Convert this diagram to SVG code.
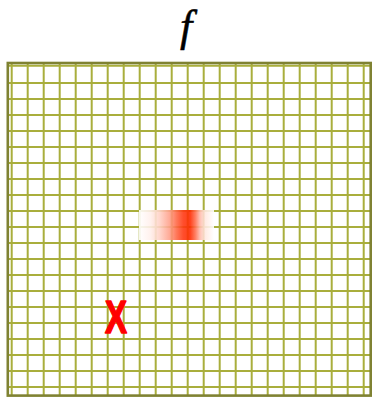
<svg xmlns="http://www.w3.org/2000/svg" width="373" height="397" viewBox="0 0 373 397">
<defs>
<style>
.g{stroke:#a9ae3c;stroke-width:2;fill:none}
.b{stroke:#7f8232;stroke-width:2.6;fill:none}
</style>
<linearGradient id="heat" x1="0" y1="0" x2="1" y2="0">
<stop offset="0" stop-color="#ffffff"/>
<stop offset="0.15" stop-color="#fff0ec"/>
<stop offset="0.28" stop-color="#ffd0c4"/>
<stop offset="0.41" stop-color="#ffa08a"/>
<stop offset="0.5" stop-color="#ff6a48"/>
<stop offset="0.59" stop-color="#ff3a15"/>
<stop offset="0.68" stop-color="#ff2a00"/>
<stop offset="0.75" stop-color="#ff7050"/>
<stop offset="0.81" stop-color="#ffb8a8"/>
<stop offset="0.88" stop-color="#ffe8e0"/>
<stop offset="1" stop-color="#ffffff"/>
</linearGradient>
</defs>
<rect width="373" height="397" fill="#ffffff"/>
<g id="grid">
<path class="g" d="M11.7 63V395 M27.7 63V395 M43.7 63V395 M59.7 63V395 M75.7 63V395 M91.7 63V395 M107.7 63V395 M123.7 63V395 M139.7 63V395 M155.7 63V395 M171.7 63V395 M187.7 63V395 M203.7 63V395 M219.7 63V395 M235.7 63V395 M251.7 63V395 M267.7 63V395 M283.7 63V395 M299.7 63V395 M315.7 63V395 M331.7 63V395 M347.7 63V395 M363.7 63V395"/>
<path class="g" d="M8 65.7H371 M8 83H371 M8 99H371 M8 115H371 M8 131H371 M8 147H371 M8 163H371 M8 179H371 M8 195H371 M8 211H371 M8 227H371 M8 243H371 M8 259H371 M8 275H371 M8 291H371 M8 307H371 M8 323H371 M8 339H371 M8 355H371 M8 371H371 M8 387H371"/>
<rect class="b" x="7.8" y="63" width="362.9" height="332.6"/>
</g>
<g id="heatmap">
<rect x="139" y="210" width="75" height="30" fill="url(#heat)" opacity="0.9"/>
</g>
<g id="label-f">
<text x="180" y="41" font-family="Liberation Serif, serif" font-style="italic" font-size="44" fill="#000000" stroke="#000000" stroke-width="0.5">f</text>
</g>
<g id="marker-x">
<text x="105" y="333" font-family="Liberation Sans, Arial, sans-serif" font-weight="bold" font-size="46" fill="#ff0000" stroke="#ff0000" stroke-width="1.6" stroke-linejoin="round" textLength="22" lengthAdjust="spacingAndGlyphs">X</text>
</g>
</svg>
